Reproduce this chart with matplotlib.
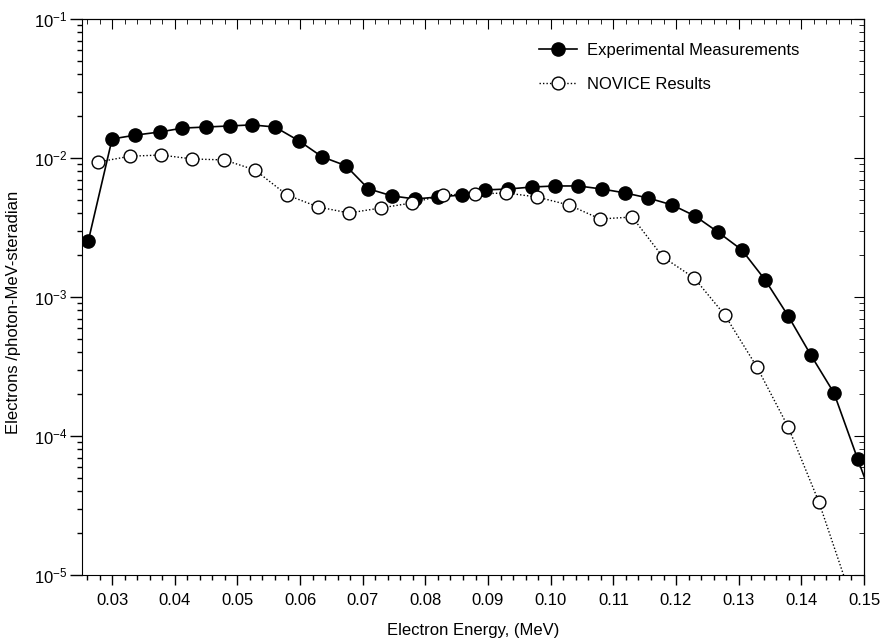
import matplotlib
matplotlib.use("Agg")
import matplotlib.pyplot as plt
import numpy as np
from matplotlib.ticker import MultipleLocator, LogLocator, LogFormatterSciNotation, NullFormatter

plt.rcParams['font.family'] = ['Liberation Sans', 'DejaVu Sans']

# experimental measurements (last point lies past the axis edge)
exp_energy = [0.0262, 0.0300, 0.0337, 0.0377, 0.0412, 0.0450, 0.0488, 0.0523,
              0.0560, 0.0598, 0.0635, 0.0673, 0.0709, 0.0747, 0.0784, 0.0820,
              0.0859, 0.0895, 0.0932, 0.0970, 0.1007, 0.1044, 0.1082, 0.1119,
              0.1155, 0.1194, 0.1230, 0.1267, 0.1305, 0.1342, 0.1379, 0.1415,
              0.1452, 0.1490, 0.1527]
exp_values = [2.53e-3, 1.37e-2, 1.46e-2, 1.54e-2, 1.64e-2, 1.67e-2, 1.70e-2, 1.73e-2,
              1.67e-2, 1.33e-2, 1.02e-2, 8.8e-3, 6.0e-3, 5.33e-3, 5.07e-3, 5.24e-3,
              5.42e-3, 5.89e-3, 5.98e-3, 6.18e-3, 6.29e-3, 6.29e-3, 5.98e-3, 5.60e-3,
              5.16e-3, 4.59e-3, 3.83e-3, 2.93e-3, 2.18e-3, 1.33e-3, 7.3e-4, 3.83e-4,
              2.04e-4, 6.8e-5, 2.4e-5]

# NOVICE results (last point lies below the axis)
nov_energy = [0.0278, 0.0329, 0.0378, 0.0428, 0.0479, 0.0528, 0.0579, 0.0629,
              0.0678, 0.0729, 0.0779, 0.0828, 0.0879, 0.0929, 0.0978, 0.1029,
              0.1079, 0.1130, 0.1179, 0.1229, 0.1278, 0.1329, 0.1379, 0.1428,
              0.1478]
nov_values = [9.36e-3, 1.03e-2, 1.05e-2, 9.84e-3, 9.68e-3, 8.2e-3, 5.42e-3, 4.44e-3,
              4.02e-3, 4.37e-3, 4.75e-3, 5.42e-3, 5.51e-3, 5.60e-3, 5.24e-3, 4.59e-3,
              3.64e-3, 3.76e-3, 1.94e-3, 1.37e-3, 7.4e-4, 3.14e-4, 1.16e-4, 3.35e-5,
              7.2e-6]

fig = plt.figure(figsize=(8.83, 6.41), dpi=100)
ax = fig.add_axes([0.0929, 0.1030, 0.8856, 0.8674])

ax.plot(exp_energy, exp_values, color="black", lw=1.2, marker="o", ms=9.5,
        mfc="black", mec="black", label="Experimental Measurements")
ax.plot(nov_energy, nov_values, color="black", lw=1.0, ls=(0, (1, 1.5)), marker="o", ms=9.2,
        mfc="white", mec="black", mew=1.0, label="NOVICE Results")

ax.set_yscale("log")
ax.set_xlim(0.0252, 0.15)
ax.set_ylim(1e-5, 1e-1)

ax.xaxis.set_major_locator(MultipleLocator(0.01))
ax.xaxis.set_minor_locator(MultipleLocator(0.002))
ax.xaxis.set_major_formatter(plt.FuncFormatter(lambda v, p: f"{v:.2f}"))
ax.yaxis.set_major_locator(LogLocator(base=10, numticks=10))
ax.yaxis.set_minor_locator(LogLocator(base=10, subs=np.arange(2, 10), numticks=10))
ax.yaxis.set_major_formatter(LogFormatterSciNotation())
ax.yaxis.set_minor_formatter(NullFormatter())

ax.tick_params(which="major", direction="out", length=9, width=1, labelsize=12)
ax.tick_params(axis="x", which="major", length=7, pad=6)
ax.tick_params(axis="y", which="major", pad=1.5)
ax.tick_params(which="minor", direction="out", length=3.5, width=1)

# inward ticks on top and right
top = ax.secondary_xaxis("top")
top.xaxis.set_major_locator(MultipleLocator(0.01))
top.xaxis.set_minor_locator(MultipleLocator(0.002))
top.tick_params(which="major", direction="in", length=7, labeltop=False)
top.tick_params(which="minor", direction="in", length=3.5)
right = ax.secondary_yaxis("right")
right.yaxis.set_major_locator(LogLocator(base=10, numticks=10))
right.yaxis.set_minor_locator(LogLocator(base=10, subs=np.arange(2, 10), numticks=10))
right.yaxis.set_minor_formatter(NullFormatter())
right.tick_params(which="major", direction="in", length=7, labelright=False)
right.tick_params(which="minor", direction="in", length=3.5)

ax.set_xlabel("Electron Energy, (MeV)", fontsize=12, labelpad=11)
ax.set_ylabel("Electrons /photon-MeV-steradian", fontsize=12)
ax.yaxis.set_label_coords(-0.078, 0.473)

ax.legend(loc="upper left", bbox_to_anchor=(0.5755, 0.969), borderaxespad=0, frameon=False,
          fontsize=12, handlelength=2.3, handletextpad=0.6, labelspacing=1.15, borderpad=0.4)

fig.savefig("out.png", dpi=100)
